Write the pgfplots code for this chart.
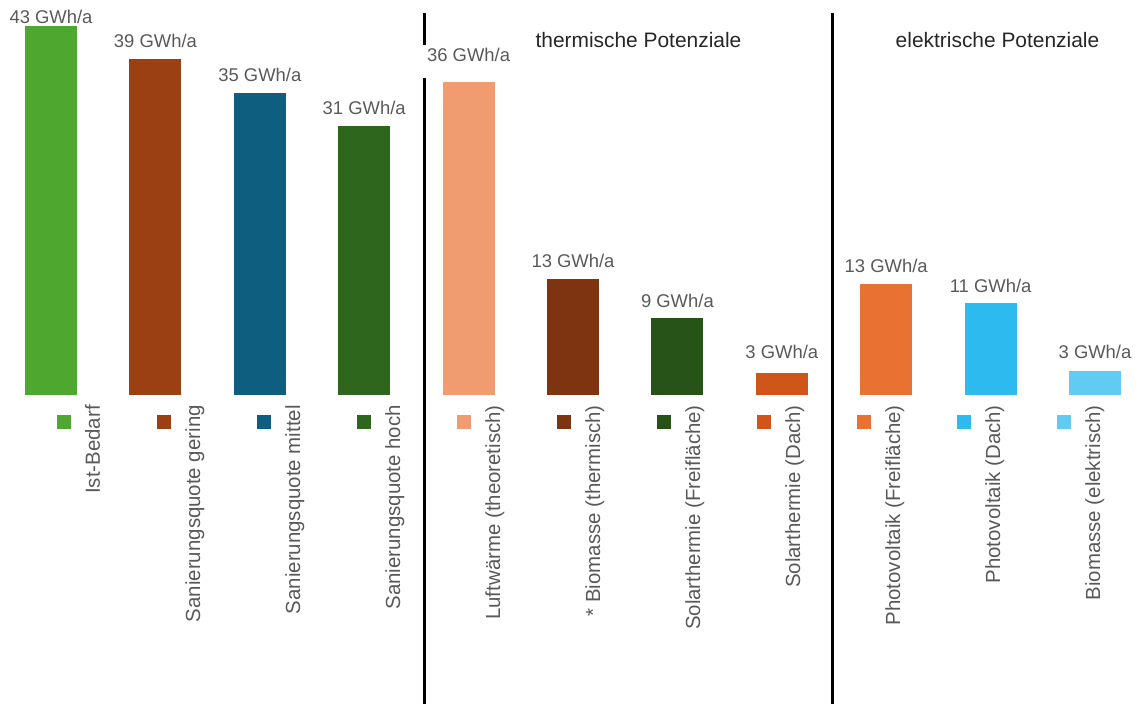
\documentclass[border=0pt]{standalone}
\usepackage{fontspec}
\setmainfont{Liberation Sans}
\usepackage{pgfplots}
\pgfplotsset{compat=1.18}
\definecolor{c0}{HTML}{4EA72E}
\definecolor{c1}{HTML}{9A4012}
\definecolor{c2}{HTML}{0E5E80}
\definecolor{c3}{HTML}{2E661E}
\definecolor{c4}{HTML}{F19C70}
\definecolor{c5}{HTML}{7F3411}
\definecolor{c6}{HTML}{275218}
\definecolor{c7}{HTML}{D05519}
\definecolor{c8}{HTML}{E97132}
\definecolor{c9}{HTML}{2DBAEF}
\definecolor{c10}{HTML}{61CBF2}
\definecolor{lblgray}{HTML}{595959}
\definecolor{ttl}{HTML}{262626}
\pgfplotsset{
  mybar/.style 2 args={ybar, bar width=52bp, fill=#1, draw=none,
    nodes near coords={\pgfmathprintnumber[fixed,precision=0]{\pgfplotspointmeta}~GWh/a},
    every node near coord/.append style={font=\fontsize{18.5}{20}\selectfont, text=lblgray, anchor=south, inner sep=0pt, yshift=#2}},
  mysq/.style={only marks, mark=square*, mark size=6.5bp, mark options={fill=#1, draw=#1, line width=0.1pt}},
}
\begin{document}
\begin{tikzpicture}
\begin{axis}[
  scale only axis, width=1136bp, height=395bp,
  xmin=-0.4885, xmax=10.3927, ymin=0, ymax=45.93,
  clip=false,
  axis line style={draw=none},
  ytick=\empty,
  xtick={0.4693,1.4272,2.3851,3.3429,4.3008,5.2586,6.2165,7.1743,8.1322,9.0900,10.0479},
  xticklabels={Ist-Bedarf,Sanierungsquote gering,Sanierungsquote mittel,Sanierungsquote hoch,Luftwärme (theoretisch),* Biomasse (thermisch),Solarthermie (Freifläche),Solarthermie (Dach),Photovoltaik (Freifläche),Photovoltaik (Dach),Biomasse (elektrisch)},
  major tick length=0pt,
  xticklabel style={font=\fontsize{20.5}{22}\selectfont, text=lblgray, yshift=-10bp, rotate=90, anchor=base east, inner sep=0pt},
  /pgf/number format/assume math mode=true,
]
% bars
\addplot[mybar={c0}{2bp}]  coordinates {(0,42.9)};
\addplot[mybar={c1}{11bp}] coordinates {(1,39.07)};
\addplot[mybar={c2}{11bp}] coordinates {(2,35.1)};
\addplot[mybar={c3}{11bp}] coordinates {(3,31.28)};
\addplot[mybar={c4}{20bp}] coordinates {(4,36.4)};
\addplot[mybar={c5}{11bp}] coordinates {(5,13.49)};
\addplot[mybar={c6}{10bp}] coordinates {(6,8.95)};
\addplot[mybar={c7}{14bp}] coordinates {(7,2.56)};
\addplot[mybar={c8}{11bp}] coordinates {(8,12.9)};
\addplot[mybar={c9}{10bp}] coordinates {(9,10.7)};
\addplot[mybar={c10}{12bp}] coordinates {(10,2.79)};
% legend squares
\addplot[mysq=c0]  coordinates {(0.1197,-3.08)};
\addplot[mysq=c1]  coordinates {(1.0776,-3.08)};
\addplot[mysq=c2]  coordinates {(2.0354,-3.08)};
\addplot[mysq=c3]  coordinates {(2.9933,-3.08)};
\addplot[mysq=c4]  coordinates {(3.9511,-3.08)};
\addplot[mysq=c5]  coordinates {(4.9090,-3.08)};
\addplot[mysq=c6]  coordinates {(5.8669,-3.08)};
\addplot[mysq=c7]  coordinates {(6.8247,-3.08)};
\addplot[mysq=c8]  coordinates {(7.7826,-3.08)};
\addplot[mysq=c9]  coordinates {(8.7404,-3.08)};
\addplot[mysq=c10] coordinates {(9.6983,-3.08)};
% separators
\addplot[black, line width=3bp, no marks] coordinates {(3.582,44.42) (3.582,40.7)};
\addplot[black, line width=3bp, no marks] coordinates {(3.582,36.86) (3.582,-37)};
\addplot[black, line width=3bp, no marks] coordinates {(7.490,44.42) (7.490,-37)};
\node[anchor=base, font=\fontsize{21}{23}\selectfont, text=ttl] at (axis cs:5.627,40.35) {thermische Potenziale};
\node[anchor=base, font=\fontsize{21}{23}\selectfont, text=ttl] at (axis cs:9.066,40.35) {elektrische Potenziale};
\coordinate (BL) at (rel axis cs:0,0);
\coordinate (TR) at (rel axis cs:1,1);
\end{axis}
\pgfresetboundingbox
\path ([yshift=-308bp]BL) rectangle (TR);
\end{tikzpicture}
\end{document}
